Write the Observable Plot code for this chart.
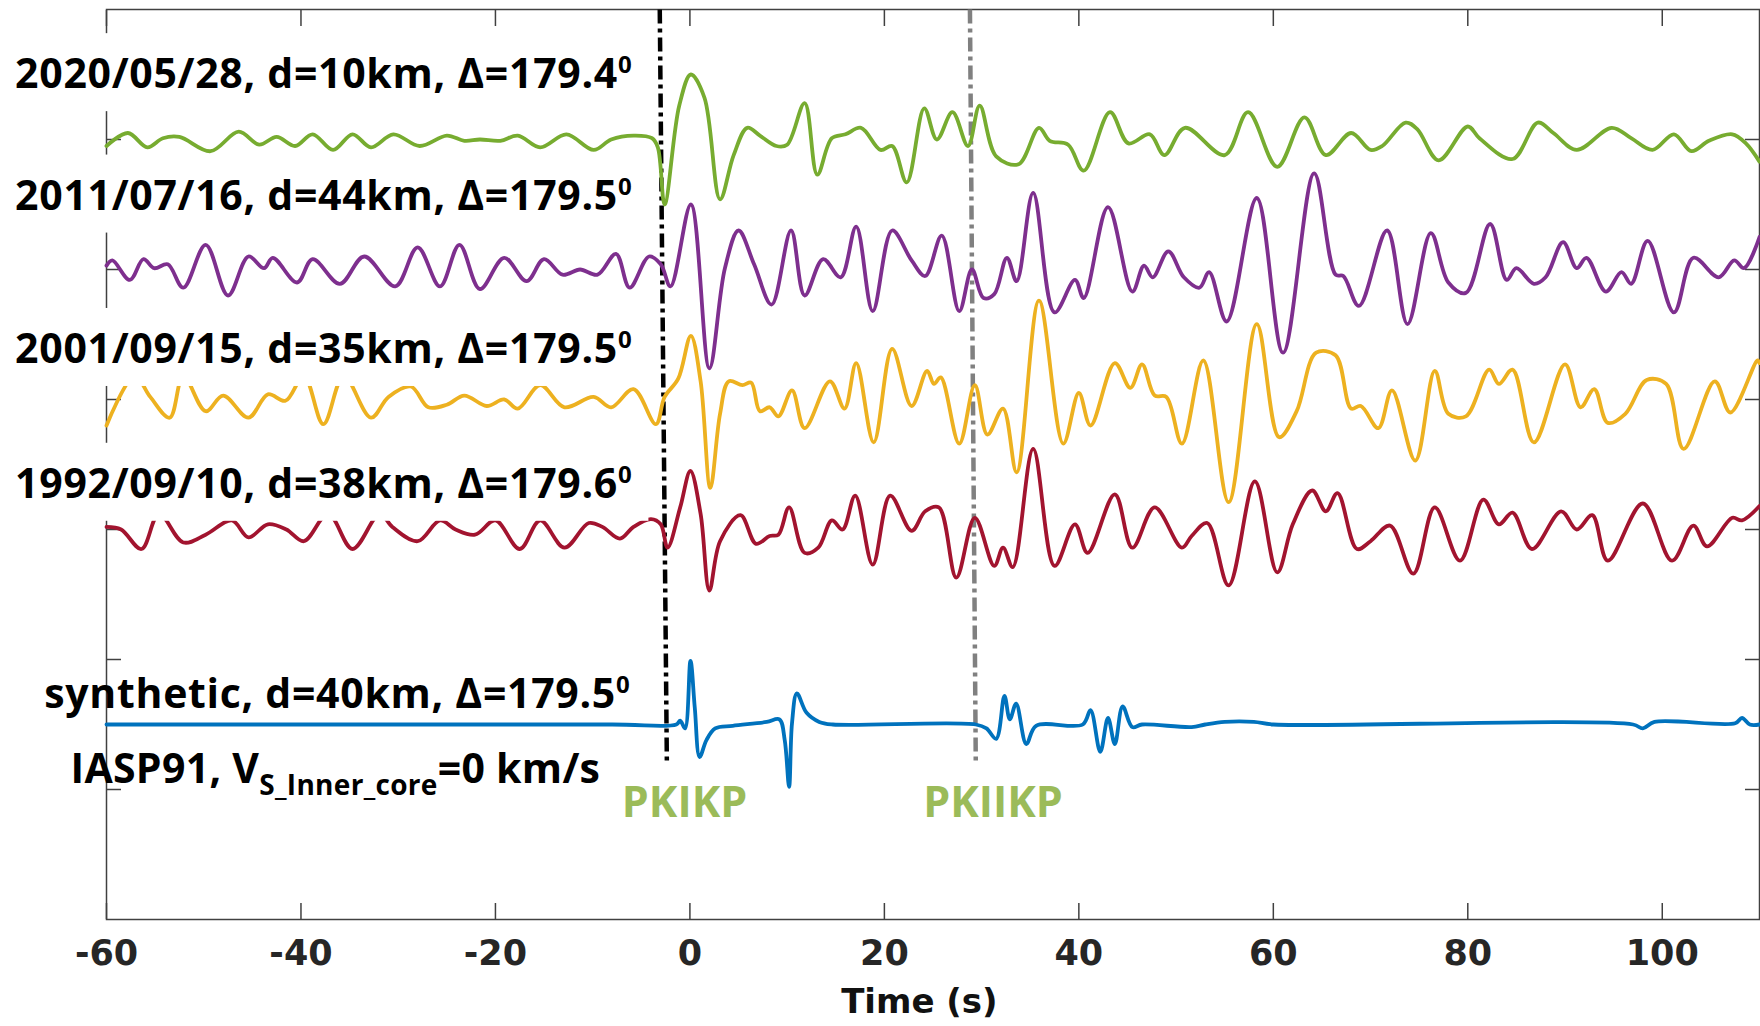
<!DOCTYPE html>
<html><head><meta charset="utf-8">
<script src="https://cdn.jsdelivr.net/npm/d3@7"></script>
<script src="https://cdn.jsdelivr.net/npm/@observablehq/plot@0.6"></script>
<style>html,body{margin:0;padding:0;background:#fff;overflow:hidden}</style>
</head><body><div id="chart"></div>
<script>
// ---------- data ----------
const xTicks = [-60, -40, -20, 0, 20, 40, 60, 80, 100];
const yTicks = [1, 2, 3, 4, 5, 6];
const xTitle = "Time (s)";

const traceNames = ["2020/05/28", "2011/07/16", "2001/09/15", "1992/09/10", "synthetic"];
const traceOffsets = [6, 5, 4, 3, 1.5];
const traceColors = ["#77AC30", "#7E2F8E", "#EDB120", "#A2142F", "#0072BD"];

const greenT = [-60,-57.8,-55.8,-54.2,-52.5,-49.3,-46.4,-44.3,-42.5,-40.6,-38.8,-36.7,-34.7,-32.8,-30.5,-27.8,-25,-23.2,-21.6,-19.5,-17.7,-15.4,-12.7,-9.9,-8.1,-5.8,-3.9,-3.3,-2.6,-1.1,0.1,1.5,3.1,4.5,5.9,7.2,8.9,10,11.8,13.1,14.6,16,17.6,19.6,20.8,22.3,24.1,25.4,27,28.6,29.8,31.5,33.8,35.9,37,38.9,40.5,43.2,45.1,47.3,48.8,50.9,55,57.4,60.4,63.2,65.4,68,70,71.2,73.6,74.8,77,80,81.2,84.6,87.2,88.8,91.2,94.8,96.8,99,101.2,103,104.8,107.2,108.6,110];
const greenA = [-0.05,0.05,-0.06,0.01,0.02,-0.09,0.06,-0.04,0.02,-0.05,0.04,-0.08,0.04,-0.06,0.04,-0.05,0.03,-0.01,0,-0.01,0.03,-0.06,0.04,-0.08,0,0.03,0.01,-0.06,-0.5,0.26,0.5,0.32,-0.46,-0.12,0.09,0.03,-0.05,-0.04,0.28,-0.27,0.01,0.04,0.09,-0.08,-0.05,-0.33,0.24,0,0.21,-0.05,0.26,-0.13,-0.19,0.09,-0.01,-0.04,-0.24,0.21,-0.03,0.04,-0.12,0.09,-0.12,0.21,-0.21,0.17,-0.12,0.05,-0.08,-0.05,0.13,0.08,-0.16,0.10,0.01,-0.15,0.13,0.05,-0.08,0.09,0.01,-0.08,0.04,-0.09,-0.01,0.04,-0.03,-0.17];

const purpleT = [-60,-59.4,-57.6,-56.2,-55.1,-53.7,-52.1,-49.8,-47.5,-45.4,-43.8,-42.9,-40.4,-38.8,-36,-33.5,-30.3,-28,-25.7,-23.7,-21.6,-19.1,-16.8,-15,-13.1,-11.3,-9.5,-7.6,-6.2,-4.2,-3,-2,0.1,2,3.6,5,6.6,8.4,10.4,11.8,13.7,15.5,17.1,18.8,20.8,22.8,24.2,25.9,27.7,29,30.2,31.3,32.6,33.6,35.3,37.5,39.6,40.5,43,45.5,46.7,47.6,49.2,50.8,52.4,53.4,55.2,58.3,61,64.2,66.4,67.2,68.8,71.7,73.8,76.2,78,79.8,82.3,84,85,86.8,88,89.8,91.2,92.2,94.2,95.8,96.8,98.5,101.2,103.2,105.8,107.4,108.4,110];
const purpleA = [0.03,0.07,-0.08,0.08,0.01,0.04,-0.14,0.19,-0.2,0.1,0.01,0.09,-0.1,0.08,-0.11,0.1,-0.13,0.17,-0.13,0.19,-0.15,0.09,-0.09,0.08,-0.04,0,-0.04,0.12,-0.14,0.1,0.04,-0.13,0.5,-0.76,0.01,0.3,0.04,-0.27,0.3,-0.2,0.08,-0.06,0.33,-0.32,0.3,0.07,-0.05,0.26,-0.32,0,-0.22,-0.19,0.09,-0.09,0.59,-0.33,-0.08,-0.22,0.48,-0.17,0.03,-0.06,0.14,-0.06,-0.14,-0.02,-0.4,0.55,-0.64,0.74,-0.04,-0.05,-0.28,0.3,-0.42,0.28,-0.1,-0.18,0.35,-0.08,0.01,-0.11,-0.06,0.21,0.01,0.09,-0.17,-0.02,-0.11,0.22,-0.33,0.09,-0.06,0.07,0.01,0.25];

const yellowT = [-60,-57.1,-55.5,-53.5,-52.1,-49.8,-48,-45.4,-43.4,-41.6,-39.7,-37.7,-35.6,-32.8,-31,-28.7,-26.9,-25,-23.2,-20.9,-19.1,-17.7,-15.4,-12.9,-9.9,-8.1,-5.8,-3.5,-2.6,-1.2,0.1,1.1,2.1,3.1,4,5.4,6.3,7.2,8.2,9.1,10.5,11.8,14.4,15.9,17.1,18.9,20.8,22.8,24.4,25.1,25.8,27.7,29.3,30.6,32.2,33.6,35.9,38.4,40,41.2,43.7,45.3,46.5,47.8,49,50.6,52.8,55.4,58.3,60.6,62.4,64.4,66.4,68,69,70.8,72.2,74.6,76.6,78,79.8,82.2,83.2,84.6,86.8,90,91.6,93,94.4,96.2,98.4,100.4,102.2,105.4,107,109.8,110];
const yellowA = [-0.2,0.18,0.02,-0.14,0.18,-0.09,0.03,-0.14,0.04,-0.01,0.18,-0.19,0.18,-0.14,0.02,0.1,-0.06,-0.04,0.03,-0.05,0,-0.07,0.11,-0.06,0.02,-0.06,0.08,-0.19,0.02,0.16,0.49,0.14,-0.68,-0.11,0.14,0.11,0.13,-0.09,-0.06,-0.13,0.07,-0.22,0.14,-0.07,0.28,-0.33,0.39,-0.05,0.22,0.12,0.17,-0.34,0.11,-0.27,-0.07,-0.56,0.76,-0.34,0.05,-0.2,0.28,0.09,0.27,0.03,0.02,-0.34,0.3,-0.79,0.58,-0.29,-0.09,0.36,0.34,-0.07,-0.05,-0.22,0.07,-0.47,0.22,-0.11,-0.13,0.23,0.12,0.23,-0.33,0.27,-0.06,0.08,-0.18,-0.11,0.15,0.12,-0.38,0.14,-0.1,0.3,0.28];

const redT = [-60,-58.5,-56.4,-54.6,-52.1,-49.8,-47.1,-45.4,-43.4,-41.5,-39.7,-37.2,-34.7,-31.9,-30.6,-28,-25.7,-24.1,-22.1,-20,-17.5,-15.4,-12.9,-10.4,-9,-7.2,-5.8,-4,-3,-2.3,-1,0.05,1.1,2,3.1,5.2,6.8,8.2,9.1,10.2,11.8,13.2,14.6,15.7,17,18.8,20.6,22.8,24.2,25.6,27.4,29.3,31.3,32.2,33.2,35.3,37.5,39.6,40.9,43.7,45.5,47.8,50.6,51.6,53.2,55.4,58.1,60.4,62,64,65.4,66.6,68.6,70,72,74.4,76.6,79.2,81.6,83.2,84.6,86.6,89.6,91.2,92.8,94.4,98,101,103.2,104.6,107.2,108.2,110];
const redA = [0.02,0,-0.15,0.12,-0.1,-0.04,0.07,-0.06,0.04,0,-0.09,0.12,-0.15,0.12,0.02,-0.09,0.07,0,-0.04,0.07,-0.15,0.07,-0.14,0.05,0.02,-0.07,0.02,0.08,0.04,-0.14,0.17,0.45,0.12,-0.47,-0.09,0.11,-0.11,-0.05,-0.04,0.17,-0.18,-0.14,0.07,0,0.26,-0.27,0.26,-0.01,0.14,0.17,-0.37,0.09,-0.28,-0.14,-0.29,0.62,-0.28,0.04,-0.18,0.27,-0.14,0.17,-0.14,-0.05,0.05,-0.43,0.37,-0.33,0.04,0.3,0.14,0.28,-0.15,-0.09,0.03,-0.34,0.17,-0.24,0.23,0.04,0.13,-0.15,0.14,0,0.11,-0.24,0.2,-0.24,0.03,-0.13,0.09,0.07,0.18];

const blueT = [-60,-8,-1.4,-1,-0.5,0.06,0.5,1,1.7,2.6,4.4,7.9,9.2,9.75,10.2,10.5,11,12,13.3,14.7,29.4,30.5,31.5,32.35,32.9,33.55,34.6,35.6,40.4,41.2,42.2,43,43.7,44.5,45.5,46.5,51.6,53,55,58,60,97,98,99.2,107.5,108.2,109,110];
const blueA = [0,0,0,0.03,-0.03,0.49,0.13,-0.25,-0.12,-0.03,-0.01,0.02,0.04,-0.12,-0.48,0.01,0.24,0.09,0.02,0,0,-0.03,-0.11,0.22,0.04,0.16,-0.15,-0.01,0,0.11,-0.21,0.05,-0.15,0.14,-0.02,0,-0.02,0,0.02,0.02,0,0,-0.03,0.02,0.01,0.05,0,0];

const labelText = [
  "2020/05/28, d=10km, Δ=179.4^{0}",
  "2011/07/16, d=44km, Δ=179.5^{0}",
  "2001/09/15, d=35km, Δ=179.5^{0}",
  "1992/09/10, d=38km, Δ=179.6^{0}",
  "synthetic, d=40km, Δ=179.5^{0}",
  "IASP91, V_{S_Inner_core}=0 km/s"
];
const phaseNames = ["PKIKP", "PKIIKP"];
const phaseTimeTop = [-3.1, 28.8];
const phaseTimeBottom = [-2.37, 29.4];

// ---------- build table ----------
const times = [greenT, purpleT, yellowT, redT, blueT];
const amps = [greenA, purpleA, yellowA, redA, blueA];
const rows = [];
traceNames.forEach((name, k) => times[k].forEach((t, i) => rows.push({name, t, v: amps[k][i] + traceOffsets[k]})));

// annotation placement
const labelPos = [
  {x: -69.4, y: 6.395}, {x: -69.4, y: 5.461}, {x: -69.4, y: 4.281},
  {x: -69.4, y: 3.244}, {x: -66.4, y: 1.630}, {x: -63.7, y: 1.053}
];
const labels = labelText.map((text, i) => ({text, ...labelPos[i]}));
const phaseLabels = [{text: phaseNames[0], x: -7.0, y: 0.786}, {text: phaseNames[1], x: 24.0, y: 0.786}];
const phaseLines = phaseNames.map((n, i) => ({x1: phaseTimeTop[i], x2: phaseTimeBottom[i], y1: 7, y2: 1.2}));

const labelFont = "'Open Sans', 'Noto Sans', sans-serif";
const axisFont = "'DejaVu Sans', sans-serif";

const chart = Plot.plot({
  width: 1760, height: 1026,
  marginLeft: 106, marginRight: 1, marginTop: 9, marginBottom: 107,
  x: {domain: [-60, 110]},
  y: {domain: [0, 7]},
  style: {background: "white", overflow: "visible"},
  marks: [
    Plot.frame({stroke: "#404040", strokeWidth: 1.5}),
    Plot.axisX(xTicks, {anchor: "bottom", tickSize: -16, tickFormat: () => "", label: null, stroke: "#404040", strokeWidth: 1.5}),
    Plot.axisX(xTicks, {anchor: "top", tickSize: -16, tickFormat: () => "", label: null, stroke: "#404040", strokeWidth: 1.5}),
    Plot.axisY(yTicks, {anchor: "left", tickSize: -15, tickFormat: () => "", label: null, stroke: "#404040", strokeWidth: 1.5}),
    Plot.axisY(yTicks, {anchor: "right", tickSize: -15, tickFormat: () => "", label: null, stroke: "#404040", strokeWidth: 1.5}),
    Plot.axisX(xTicks, {anchor: "bottom", tickSize: 0, tickPadding: 21, tickFormat: d => String(d), label: null, fontSize: 35, fontWeight: "bold", fontFamily: axisFont, fill: "#262626"}),
    Plot.text([xTitle], {x: [23.6], frameAnchor: "bottom", dy: 93, lineAnchor: "bottom", text: d => d, fontSize: 34, fontWeight: "bold", fontFamily: axisFont, fill: "#111"}),
    Plot.link([phaseLines[0]], {x1: "x1", y1: "y1", x2: "x2", y2: "y2", stroke: "#000", strokeWidth: 4.5, strokeDasharray: "14,5,4,5"}),
    Plot.link([phaseLines[1]], {x1: "x1", y1: "y1", x2: "x2", y2: "y2", stroke: "#808080", strokeWidth: 4.5, strokeDasharray: "14,5,4,5"}),
    ...traceNames.map((name, k) => Plot.line(rows.filter(r => r.name === name), {x: "t", y: "v", stroke: traceColors[k], strokeWidth: 3.8, curve: "catmull-rom"})),
    Plot.text(labels, {x: "x", y: "y", text: "text", textAnchor: "start", lineAnchor: "bottom", fontSize: 41, fontWeight: "bold", fontFamily: labelFont, fill: "#000"}),
    Plot.text(phaseLabels, {x: "x", y: "y", text: "text", textAnchor: "start", lineAnchor: "bottom", fontSize: 43, fontWeight: "bold", fontFamily: labelFont, fill: "#9BBB59"})
  ]
});
document.getElementById("chart").append(chart);

// rich text (superscript / subscript) and white label boxes
const NS = "http://www.w3.org/2000/svg";
Array.from(chart.querySelectorAll("text")).forEach(t => {
  const idx = labelText.indexOf(t.textContent);
  if (idx < 0) return;
  const parts = t.textContent.split(/(\^\{[^}]*\}|_\{[^}]*\})/).filter(s => s.length);
  t.textContent = "";
  t.style.letterSpacing = idx === 5 ? "0.3px" : "0.7px";
  let shift = 0;
  parts.forEach(p => {
    const ts = document.createElementNS(NS, "tspan");
    let target = 0, size = null;
    if (p.startsWith("^{")) { target = -15; size = "24px"; p = p.slice(2, -1); }
    else if (p.startsWith("_{")) { target = 12; size = "28px"; p = p.slice(2, -1); }
    if (target !== shift) ts.setAttribute("dy", target - shift);
    shift = target;
    if (size) ts.setAttribute("font-size", size);
    ts.textContent = p;
    t.appendChild(ts);
  });
  if (idx < 4) {
    const bb = t.getBBox();
    const r = document.createElementNS(NS, "rect");
    r.setAttribute("x", bb.x - 16);
    r.setAttribute("y", bb.y - 11);
    r.setAttribute("width", bb.width + 32);
    r.setAttribute("height", bb.height + 22);
    r.setAttribute("fill", "#fff");
    if (t.getAttribute("transform")) r.setAttribute("transform", t.getAttribute("transform"));
    t.parentNode.insertBefore(r, t);
  }
});
</script>
</body></html>
